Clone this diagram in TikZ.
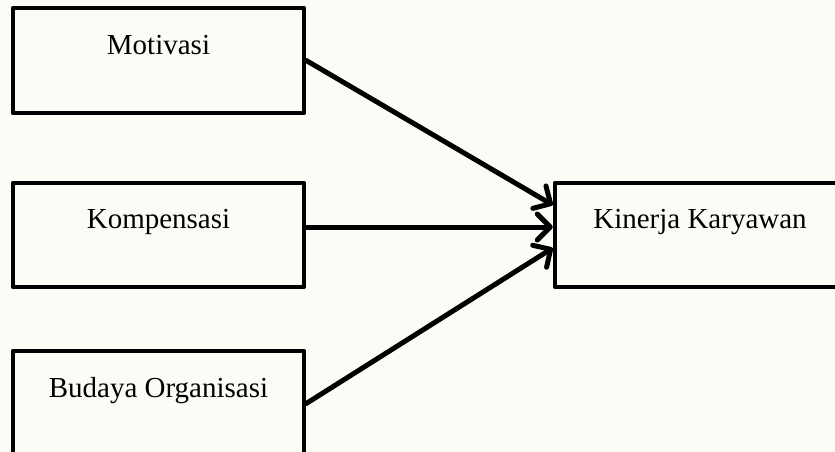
\documentclass[tikz,border=0pt]{standalone}
\usepackage{fontspec}
\setmainfont{Liberation Serif}
\usetikzlibrary{arrows.meta,calc}
\definecolor{bgcol}{RGB}{252,252,247}
\tikzset{
  box/.style={draw=black, line width=4.5pt, line join=round, fill=none, inner sep=0pt, minimum width=291pt},
  lbl/.style={anchor=base, inner sep=0pt, font=\fontsize{29}{34}\selectfont},
  conn/.style={line width=5pt, line cap=round, -{Straight Barb[length=13pt,width=26pt,line cap=round,line join=round]}}
}
\begin{document}
\begin{tikzpicture}[x=1pt,y=-1pt]
\fill[bgcol] (0,0) rectangle (835,452);
\useasboundingbox (0,0) rectangle (835,452);
\clip (0,0) rectangle (835,452);
% boxes
\node[box, minimum height=105pt] (mot) at (158.5,60.5) {};
\node[box, minimum height=104pt] (komp) at (158.5,235) {};
\node[box, minimum height=105pt] (bud) at (158.5,403.5) {};
\node[box, minimum width=290pt, minimum height=104pt] (kin) at (700,235) {};
% labels
\node[lbl] (motT) at ($(mot.north)+(0,49)$) {Motivasi};
\node[lbl] (kompT) at ($(komp.north)+(0,48)$) {Kompensasi};
\node[lbl] (budT) at ($(bud.north)+(0,49)$) {Budaya Organisasi};
\node[lbl] (kinT) at ($(kin.north)+(0,48)$) {Kinerja Karyawan};
% connector end points
\coordinate (kinA) at ($(kin.west)+(0,-30)$);
\coordinate (kinB) at ($(kin.west)+(0,-8)$);
\coordinate (kinC) at ($(kin.west)+(0,13)$);
\coordinate (kompS) at ($(komp.east)+(0,-8)$);
% connectors
\draw[conn] (mot.east) -- (kinA);
\draw[conn] (kompS) -- (kinB);
\draw[conn] (bud.east) -- (kinC);
\end{tikzpicture}
\end{document}
